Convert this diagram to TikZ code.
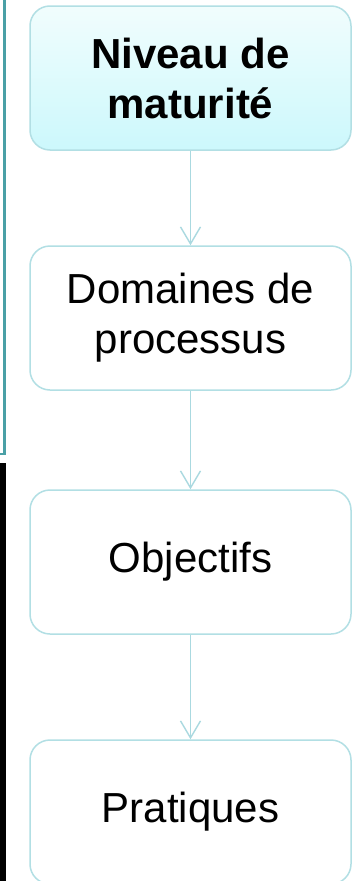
\documentclass[tikz,border=0pt]{standalone}
\usepackage{fontspec}
\setmainfont{Liberation Sans}
\usetikzlibrary{arrows.meta}
\definecolor{edgeblue}{RGB}{170,217,224}
\definecolor{boxline}{RGB}{178,223,228}
\definecolor{filltop}{RGB}{241,253,253}
\definecolor{fillbot}{RGB}{204,248,252}
\definecolor{tealline}{RGB}{74,160,166}
\tikzset{
  stepbox/.style={draw=boxline, line width=1.5pt, rounded corners=20pt,
    minimum width=321pt, minimum height=144pt, align=center,
    font=\fontsize{42}{50}\selectfont, inner sep=0pt},
  flow/.style={draw=edgeblue, line width=1.4pt,
    -{Straight Barb[length=17pt, width=20pt, line width=1.4pt]}},
}
\begin{document}
\begin{tikzpicture}[x=1pt, y=-1pt]
\clip (0,0) rectangle (352,881);
\fill[white] (0,0) rectangle (352,881);
% left screenshot artifacts
\draw[tealline, line width=2.6pt] (4.3,0) -- (4.3,454) -- (0,454);
\fill[black] (0,463) rectangle (6,881);
% boxes
\node[stepbox, top color=filltop, bottom color=fillbot, font=\fontsize{42}{50}\selectfont\bfseries] (b1) at (190.5,78) {Niveau de\\maturité};
\node[stepbox] (b2) at (190.5,318) {Domaines de\\processus};
\node[stepbox] (b3) at (190.5,562) {Objectifs};
\node[stepbox] (b4) at (190.5,812) {Pratiques};
% connectors
\draw[flow] (b1.south) -- (b2.north);
\draw[flow] (b2.south) -- (b3.north);
\draw[flow] (b3.south) -- (b4.north);
\end{tikzpicture}
\end{document}
